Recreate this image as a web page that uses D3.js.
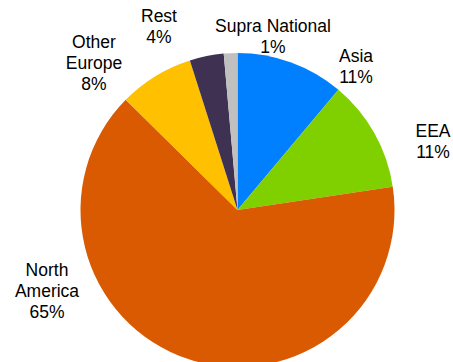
<!DOCTYPE html>
<html><head><meta charset="utf-8">
<script src="https://cdn.jsdelivr.net/npm/d3@7"></script>
<style>html,body{margin:0;padding:0;background:#fff;overflow:hidden}</style>
</head><body>
<svg id="chart" width="453" height="362"></svg>
<script>
const categories = ["Asia", "EEA", "North America", "Other Europe", "Rest", "Supra National"];
const values = [11.1, 11.5, 64.7, 7.7, 3.5, 1.4];
const pctLabels = ["11%", "11%", "65%", "8%", "4%", "1%"];
const labelLines = [["Asia"], ["EEA"], ["North", "America"], ["Other", "Europe"], ["Rest"], ["Supra National"]];
const colors = ["#0080FF", "#80D000", "#D95A00", "#FFC000", "#3F3151", "#C0C0C0"];

const svg = d3.select("#chart");
const cx = 237.5, cy = 210, r = 157;
const data = categories.map((c, i) => ({c, v: values[i], i}));
const pie = d3.pie().value(d => d.v).sort(null);
const arc = d3.arc().innerRadius(0).outerRadius(r);
const g = svg.append("g").attr("transform", `translate(${cx},${cy})`);
g.selectAll("path").data(pie(data)).enter().append("path")
  .attr("d", arc).attr("fill", d => colors[d.data.i]);

// label anchor positions (text center, first baseline)
const labelPos = [[356, 62], [433, 137], [47, 276], [94, 48], [159, 22], [273, 32]];
const lh = 21;
data.forEach((d, i) => {
  const lines = labelLines[i].concat([pctLabels[i]]);
  const t = svg.append("text").attr("text-anchor", "middle")
    .attr("font-family", "Liberation Sans, Arial, sans-serif")
    .attr("font-size", 17.5).attr("fill", "#000");
  lines.forEach((l, j) => {
    t.append("tspan").attr("x", labelPos[i][0]).attr("y", labelPos[i][1] + j * lh).text(l);
  });
});
</script>
</body></html>
